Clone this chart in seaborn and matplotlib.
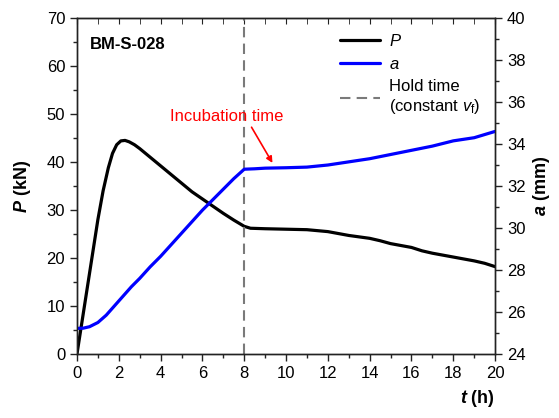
import numpy as np
import seaborn as sns
import pandas as pd
import matplotlib.pyplot as plt

# load P(t) and crack length a(t)
t_P = [0, 0.25, 0.5, 0.75, 1.0, 1.25, 1.5, 1.7, 1.9, 2.1, 2.3, 2.5, 2.75, 3.0, 3.5, 4.0, 4.5, 5.0,
       5.5, 6.0, 6.5, 7.0, 7.5, 8.0, 8.3, 9.0, 10.0, 11.0, 12.0, 12.5, 13.0, 13.5, 14.0,
       14.5, 15.0, 15.5, 16.0, 16.5, 17.0, 17.5, 18.0, 18.5, 19.0, 19.5, 20.0]
P = [0, 7, 14, 21, 28, 34, 38.8, 41.8, 43.6, 44.4, 44.5, 44.2, 43.6, 42.8, 41.0, 39.2, 37.4, 35.6,
     33.8, 32.3, 30.8, 29.3, 27.9, 26.6, 26.2, 26.1, 26.0, 25.9, 25.5, 25.1, 24.7, 24.4, 24.1,
     23.6, 23.0, 22.6, 22.2, 21.5, 21.0, 20.6, 20.2, 19.8, 19.4, 18.9, 18.2]

t_a = [0, 0.3, 0.6, 1.0, 1.4, 1.8, 2.2, 2.6, 3.0, 3.5, 4.0, 4.5, 5.0, 5.5, 6.0, 6.5,
       7.0, 7.5, 8.0, 8.5, 9.0, 10.0, 11.0, 12.0, 13.0, 14.0, 15.0, 16.0, 17.0, 18.0,
       19.0, 20.0]
a = [25.22, 25.23, 25.3, 25.5, 25.85, 26.3, 26.75, 27.2, 27.6, 28.15, 28.65, 29.2, 29.75, 30.3, 30.85, 31.35,
     31.85, 32.35, 32.8, 32.82, 32.85, 32.87, 32.9, 33.0, 33.15, 33.3, 33.5, 33.7, 33.9, 34.15,
     34.3, 34.6]

hold_t = 8
x_ticks = np.arange(0, 21, 2)
p_ticks = np.arange(0, 71, 10)
a_ticks = np.arange(24, 41, 2)

sns.set_style("ticks")
plt.rcParams['font.family'] = ['Liberation Sans', 'DejaVu Sans']
plt.rcParams['mathtext.fontset'] = 'custom'
plt.rcParams['mathtext.it'] = 'Liberation Sans:italic'
plt.rcParams['mathtext.bf'] = 'Liberation Sans:bold:italic'
plt.rcParams['mathtext.rm'] = 'Liberation Sans'
plt.rcParams['text.color'] = 'black'
plt.rcParams['axes.labelcolor'] = 'black'
plt.rcParams['xtick.labelcolor'] = 'black'
plt.rcParams['ytick.labelcolor'] = 'black'

fig = plt.figure(figsize=(5.59, 4.18), dpi=100)
ax = fig.add_axes([0.1377, 0.1531, 0.748, 0.8038])
ax2 = ax.twinx()

dP = pd.DataFrame({'t': t_P, 'P': P})
da = pd.DataFrame({'t': t_a, 'a': a})
sns.lineplot(data=dP, x='t', y='P', ax=ax, color='black', lw=2.3, label='$P$', legend=False)
sns.lineplot(data=da, x='t', y='a', ax=ax2, color='#0000ff', lw=2.3, label='$a$', legend=False)
ax.axvline(hold_t, color='#7a7a7a', ls=(0, (5, 3)), lw=1.5, label='Hold time\n(constant $v_\\mathrm{f}$)')

ax.set_xlim(0, 20)
ax.set_ylim(0, 70)
ax2.set_ylim(24, 40)
ax.set_xticks(x_ticks)
ax.set_yticks(p_ticks)
ax2.set_yticks(a_ticks)
ax.set_xticks(np.arange(1, 20, 2), minor=True)
ax.set_yticks(np.arange(5, 70, 10), minor=True)
ax2.set_yticks(np.arange(25, 40, 2), minor=True)

for a_ in (ax, ax2):
    a_.tick_params(which='both', direction='out', labelsize=12, width=1, color='#222222')
    a_.tick_params(which='major', length=5)
    a_.tick_params(which='minor', length=3)
    for s in a_.spines.values():
        s.set_color('#222222')
        s.set_linewidth(1)

# inward ticks on top spine
top = ax.secondary_xaxis('top')
top.set_xticks(x_ticks)
top.set_xticks(np.arange(1, 20, 2), minor=True)
top.tick_params(which='both', direction='in', length=4, labeltop=False, color='#222222')

ax.set_xlabel(r'$\mathbf{t}$ (h)', fontsize=13, fontweight='bold', loc='right', labelpad=5)
ax.set_ylabel(r'$\mathbf{P}$ (kN)', fontsize=13, fontweight='bold', labelpad=10)
ax2.set_ylabel(r'$\mathbf{a}$ (mm)', fontsize=13, fontweight='bold', labelpad=4)

ax.text(0.6, 64.5, 'BM-S-028', fontsize=12, fontweight='bold', va='center')
ax2.text(4.45, 35.3, 'Incubation time', color='#ff0000', fontsize=12, va='center')
ax2.annotate('', xy=(9.35, 33.1), xytext=(8.35, 34.8),
             arrowprops=dict(arrowstyle='-|>', color='#ff0000', lw=1.2, mutation_scale=9,
                             shrinkA=0, shrinkB=0))

h1, l1 = ax.get_legend_handles_labels()
h2, l2 = ax2.get_legend_handles_labels()
handles = [h1[0], h2[0], h1[1]]
labels = [l1[0], l2[0], l1[1]]
ax2.legend(handles, labels, loc='upper right', bbox_to_anchor=(1.0, 1.0), frameon=False,
           fontsize=12, handlelength=2.4, handletextpad=0.5, labelspacing=0.45)

fig.savefig('out.png', dpi=100)
